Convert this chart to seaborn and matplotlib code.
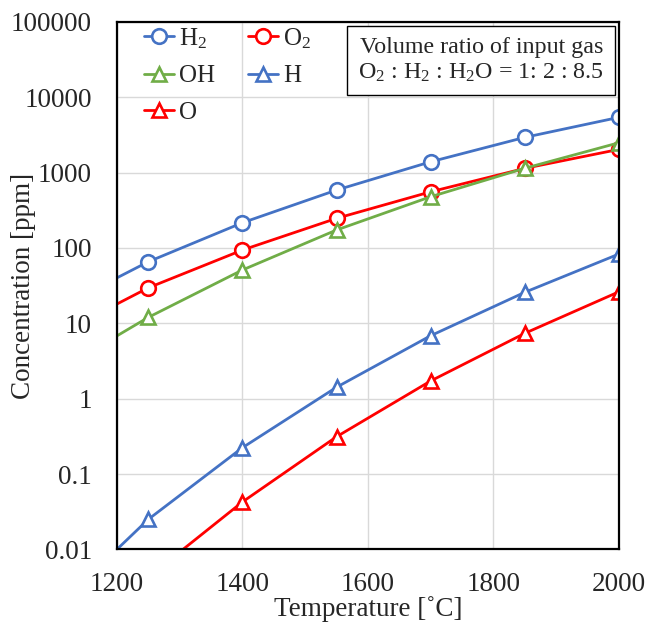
import matplotlib
matplotlib.use("Agg")
import matplotlib.pyplot as plt
import seaborn as sns
import pandas as pd

temperature = [1100, 1250, 1400, 1550, 1700, 1850, 2000]
h2 = [15.0, 65.6, 216, 586, 1390, 2930, 5400]
o2 = [6.7, 29.6, 93.8, 247, 556, 1137, 2030]
oh = [2.2, 12.0, 51, 173, 478, 1140, 2485]
h = [0.0016, 0.0251, 0.224, 1.42, 6.85, 25.8, 83]
o_temperature = [1250, 1400, 1550, 1700, 1850, 2000]
o = [0.0043, 0.0427, 0.313, 1.72, 7.37, 26.2]

series_names = ["H$_2$", "O$_2$", "OH", "H", "O"]
colors = ["#4472C4", "#FF0000", "#70AD47", "#4472C4", "#FF0000"]
markers = ["o", "o", "^", "^", "^"]

sns.set_style("white")
plt.rcParams["font.family"] = ["Liberation Serif", "DejaVu Serif"]
plt.rcParams["mathtext.fontset"] = "custom"
plt.rcParams["mathtext.rm"] = "Liberation Serif"
plt.rcParams["mathtext.it"] = "Liberation Serif:italic"

fig = plt.figure(figsize=(6.46, 6.23), dpi=100)
ax = fig.add_axes([0.181, 0.118, 0.777, 0.847])

all_series = [(temperature, h2), (temperature, o2), (temperature, oh),
              (temperature, h), (o_temperature, o)]
handles = []
for (xs, ys), name, c, m in zip(all_series, series_names, colors, markers):
    df = pd.DataFrame({"T": xs, "C": ys})
    sns.lineplot(data=df, x="T", y="C", ax=ax, color=c, marker=m, markersize=10.5,
                 markerfacecolor="white", markeredgecolor=c, markeredgewidth=1.9,
                 linewidth=2.0, label=name, legend=False)
    handles.append(ax.lines[-1])

ax.set_yscale("log")
ax.set_xlim(1200, 2000)
ax.set_ylim(0.01, 100000)
ax.set_xticks([1200, 1400, 1600, 1800, 2000])
ax.set_xticklabels(["1200", "1400", "1600", "1800", "2000"])
yt = [0.01, 0.1, 1, 10, 100, 1000, 10000, 100000]
ax.set_yticks(yt)
ax.set_yticklabels(["0.01", "0.1", "1", "10", "100", "1000", "10000", "100000"])
ax.minorticks_off()
ax.tick_params(axis="x", which="both", length=0, labelsize=19.5, pad=16)
ax.tick_params(axis="y", which="both", length=0, labelsize=19.5, pad=18)
ax.grid(True, color="#D9D9D9", linewidth=1.0)
for s in ax.spines.values():
    s.set_color("black")
    s.set_linewidth(1.6)

ax.set_xlabel("Temperature [˚C]", fontsize=19.5)
ax.set_ylabel("Concentration [ppm]", fontsize=19.5)
ax.xaxis.set_label_coords(0.5, -0.089)
ax.yaxis.set_label_coords(-0.161, 0.5)

order = [0, 2, 4, 1, 3]
leg = ax.legend([handles[i] for i in order], [series_names[i] for i in order],
                ncol=2, loc="upper left", bbox_to_anchor=(0.052, 0.994), frameon=False,
                fontsize=18, handlelength=1.2, handletextpad=0.2, columnspacing=1.3,
                labelspacing=0.56, borderaxespad=0.0, borderpad=0.05)

ax.text(0.970, 0.972, "Volume ratio of input gas\nO$_2$ : H$_2$ : H$_2$O = 1: 2 : 8.5",
        transform=ax.transAxes, ha="right", va="top", fontsize=17.3, linespacing=1.25,
        bbox=dict(boxstyle="square,pad=0.45", facecolor="white", edgecolor="black", linewidth=1.0))

fig.savefig("out.png", dpi=100)
